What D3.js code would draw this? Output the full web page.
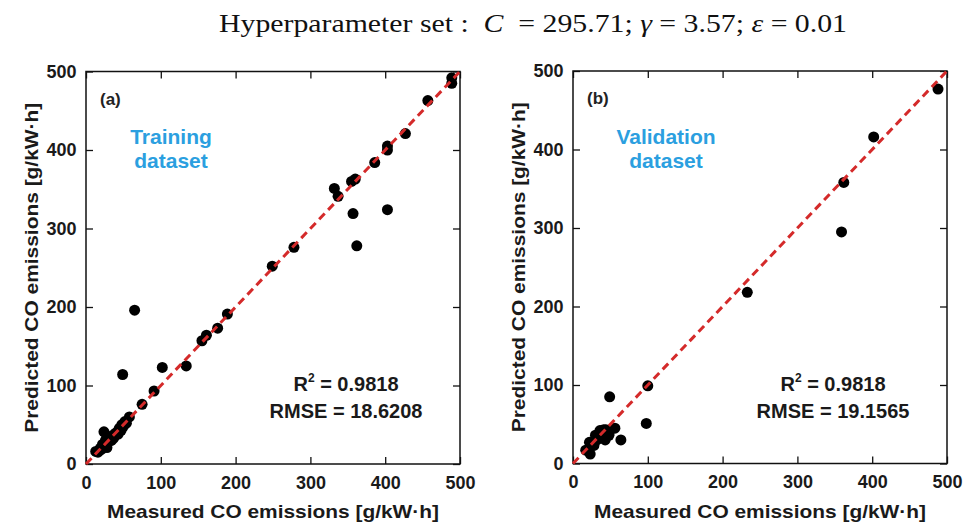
<!DOCTYPE html>
<html>
<head>
<meta charset="utf-8">
<script src="https://cdn.jsdelivr.net/npm/d3@7"></script>
<style>
  html, body { margin: 0; padding: 0; background: #fff; }
  svg { display: block; }
  text { white-space: pre; }
</style>
</head>
<body>
<svg id="chart" width="967" height="525"></svg>
<script>
// ---------------- DATA ----------------
const tickValues = [0, 100, 200, 300, 400, 500];
const tickLabels = ["0", "100", "200", "300", "400", "500"];

const trainMeasured  = [489,489,457,427,403,403,386,355,360,332,337,357,403,362,278,249,189,176,161,155,65,102,134,49,91,75,58,52,48,45,39,24,32,25,19,13,16,21,23,27,29,30,34,35,37,41,43,44,47,50,54,28,22,18,26];
const trainPredicted = [492,485,463,421,405,400,384,360,363,351,341,319,324,278,276,252,191,173,164,157,196,123,125,114,93,76,60,54,50,46,39,41,33,26,20,16,15,19,22,24,27,31,30,36,33,40,38,44,43,48,52,21,25,17,30];

const validMeasured  = [488,402,362,359,233,100,98,49,64,56,36,41,44,43,32,28,22,17,23,48,34,39,30,48,27];
const validPredicted = [477,416,358,295,218,99,51,85,30,45,42,43,43,30,30,23,27,17,12,38,36,35,36,36,27];

const panelLabels = ["(a)", "(b)"];
const datasetLabels = [["Training", "dataset"], ["Validation", "dataset"]];
const r2Labels = ["0.9818", "0.9818"];
const rmseLabels = ["18.6208", "19.1565"];
const xAxisTitle = "Measured CO emissions [g/kW\u00B7h]";
const yAxisTitle = "Predicted CO emissions [g/kW\u00B7h]";

// ---------------- DRAW ----------------
const svg = d3.select("#chart");
const sans = "'Liberation Sans', Arial, Helvetica, sans-serif";

// title
const title = svg.append("text")
  .attr("x", 533).attr("y", 32)
  .attr("text-anchor", "middle")
  .attr("font-family", "'Liberation Serif', 'Times New Roman', serif")
  .attr("font-size", 25)
  .attr("textLength", 628).attr("lengthAdjust", "spacingAndGlyphs")
  .attr("fill", "#111");
title.append("tspan").text("Hyperparameter set :  ");
title.append("tspan").attr("font-style", "italic").text("C");
title.append("tspan").text("  = 295.71; ");
title.append("tspan").attr("font-style", "italic").text("\u03B3");
title.append("tspan").text(" = 3.57; ");
title.append("tspan").attr("font-style", "italic").text("\u03B5");
title.append("tspan").text(" = 0.01");

const panels = [
  { x0: 86,  x1: 460, y0: 464, y1: 71.5, mx: trainMeasured, py: trainPredicted, yTitleX: 38 },
  { x0: 573, x1: 947, y0: 463.5, y1: 71, mx: validMeasured, py: validPredicted, yTitleX: 525 }
];

panels.forEach((p, i) => {
  const x = d3.scaleLinear().domain([0, 500]).range([p.x0, p.x1]);
  const y = d3.scaleLinear().domain([0, 500]).range([p.y0, p.y1]);
  const g = svg.append("g");

  // axes
  const bottom = g.append("g").attr("transform", `translate(0,${p.y0})`)
    .call(d3.axisBottom(x).tickValues(tickValues).tickFormat((d, k) => tickLabels[k]).tickSize(-7).tickPadding(12));
  const top = g.append("g").attr("transform", `translate(0,${p.y1})`)
    .call(d3.axisTop(x).tickValues(tickValues).tickFormat("").tickSize(-7));
  const left = g.append("g").attr("transform", `translate(${p.x0},0)`)
    .call(d3.axisLeft(y).tickValues(tickValues).tickFormat((d, k) => tickLabels[k]).tickSize(-7).tickPadding(9.5));
  const right = g.append("g").attr("transform", `translate(${p.x1},0)`)
    .call(d3.axisRight(y).tickValues(tickValues).tickFormat("").tickSize(-7));
  [bottom, top, left, right].forEach(a => {
    a.select(".domain").remove();
    a.selectAll(".tick line").attr("stroke", "#111").attr("stroke-width", 1.3);
    a.selectAll(".tick text").attr("font-family", sans).attr("font-weight", "bold").attr("fill", "#1a1a1a");
  });
  bottom.selectAll(".tick text").attr("font-size", 18);
  left.selectAll(".tick text").attr("font-size", 18);

  // frame
  g.append("rect")
    .attr("x", p.x0).attr("y", p.y1)
    .attr("width", p.x1 - p.x0).attr("height", p.y0 - p.y1)
    .attr("fill", "none").attr("stroke", "#111").attr("stroke-width", 1.5);

  // points
  g.append("g").selectAll("circle")
    .data(p.mx.map((m, k) => [m, p.py[k]]))
    .join("circle")
    .attr("cx", d => x(d[0])).attr("cy", d => y(d[1]))
    .attr("r", 5.5).attr("fill", "#000");

  // 1:1 line
  g.append("line")
    .attr("x1", x(0)).attr("y1", y(0)).attr("x2", x(500)).attr("y2", y(500))
    .attr("stroke", "#d42a2a").attr("stroke-width", 3)
    .attr("stroke-dasharray", "8,5");

  // panel label
  g.append("text")
    .attr("x", x(0) + 14).attr("y", y(500) + 33)
    .attr("font-family", sans).attr("font-weight", "bold").attr("font-size", 17)
    .attr("fill", "#222").text(panelLabels[i]);

  // dataset label
  const cx = x(0) + (i === 0 ? 85 : 93);
  datasetLabels[i].forEach((t, k) => {
    g.append("text")
      .attr("x", cx).attr("y", 144 + k * 24)
      .attr("text-anchor", "middle")
      .attr("font-family", sans).attr("font-weight", "bold").attr("font-size", 21)
      .attr("fill", "#2b9fe0").text(t);
  });

  // stats
  const sx = x(0) + 260;
  const r2 = g.append("text")
    .attr("x", sx).attr("y", 391)
    .attr("text-anchor", "middle")
    .attr("font-family", sans).attr("font-weight", "bold").attr("font-size", 20)
    .attr("fill", "#1a1a1a");
  r2.append("tspan").text("R");
  r2.append("tspan").attr("font-size", 12).attr("dy", -9).text("2");
  r2.append("tspan").attr("dy", 9).text(" = " + r2Labels[i]);
  g.append("text")
    .attr("x", sx).attr("y", 418)
    .attr("text-anchor", "middle")
    .attr("font-family", sans).attr("font-weight", "bold").attr("font-size", 20)
    .attr("fill", "#1a1a1a").text("RMSE = " + rmseLabels[i]);

  // axis titles
  g.append("text")
    .attr("x", (p.x0 + p.x1) / 2).attr("y", 518)
    .attr("text-anchor", "middle")
    .attr("font-family", sans).attr("font-weight", "bold").attr("font-size", 19)
    .attr("textLength", 332).attr("lengthAdjust", "spacingAndGlyphs")
    .attr("fill", "#1a1a1a").text(xAxisTitle);
  g.append("text")
    .attr("transform", `translate(${p.yTitleX},${(p.y0 + p.y1) / 2}) rotate(-90)`)
    .attr("text-anchor", "middle")
    .attr("font-family", sans).attr("font-weight", "bold").attr("font-size", 19)
    .attr("textLength", 330).attr("lengthAdjust", "spacingAndGlyphs")
    .attr("fill", "#1a1a1a").text(yAxisTitle);
});
</script>
</body>
</html>
